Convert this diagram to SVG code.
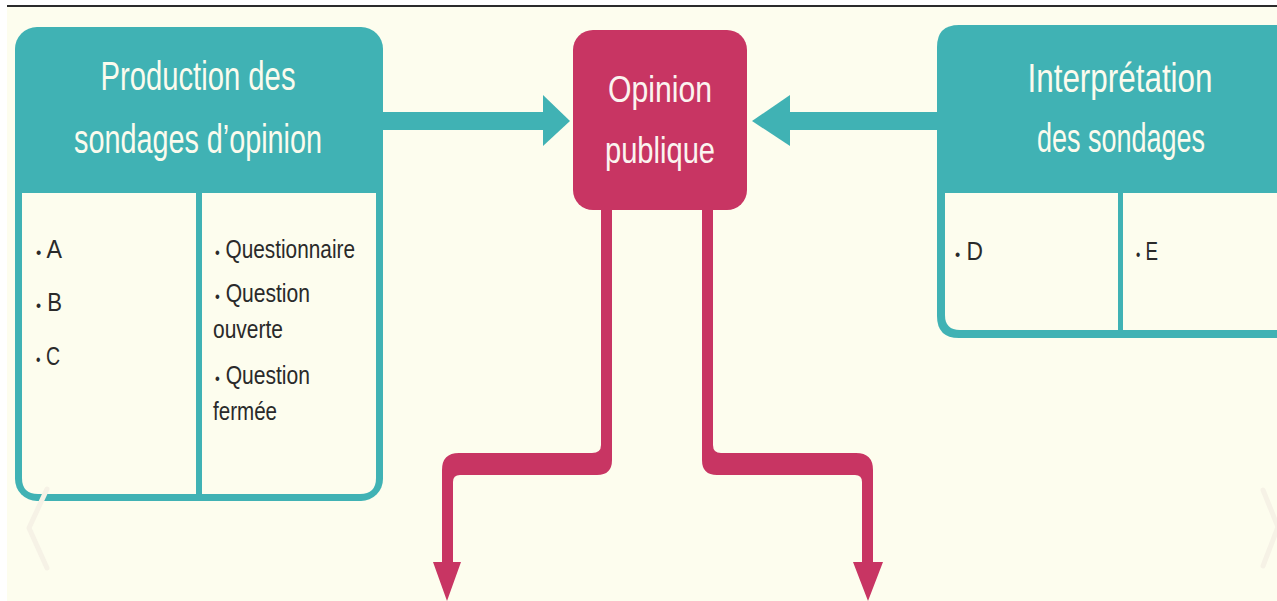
<svg xmlns="http://www.w3.org/2000/svg" width="1277" height="601" viewBox="0 0 1277 601">
<style>
.hd{font-family:"Liberation Sans",Arial,sans-serif;font-size:40px;fill:#fbfbee;text-anchor:middle}
.op{font-family:"Liberation Sans",Arial,sans-serif;font-size:37px;fill:#fbf4f0;text-anchor:middle}
.bd{font-family:"Liberation Sans",Arial,sans-serif;font-size:26px;fill:#2a2a2a}
.bl{font-size:17px}
.teal{fill:#40b2b4}
.cream{fill:#fdfdee}
.mag{fill:#c83563}
.chev{fill:none;stroke:#f6f2e6;stroke-width:5;stroke-linecap:round;stroke-linejoin:round}
</style>
<rect x="0" y="0" width="1277" height="601" fill="#ffffff"/>
<rect x="7" y="7" width="1270" height="594" class="cream"/>
<line x1="7" y1="6" x2="1277" y2="6" stroke="#2b2b2b" stroke-width="2"/>

<g id="connectors">
  <rect x="383" y="112" width="162" height="18" class="teal"/>
  <polygon points="543,95 570,121 543,146" class="teal"/>
  <rect x="788" y="112" width="150" height="18" class="teal"/>
  <polygon points="790,95 752,121 790,146" class="teal"/>
  <path class="mag" d="M601,208 H612 V460 Q612,475 597,475 H460 Q453,475 453,482 V562 H461 L447,601 L433,562 H442 V470 Q442,453 459,453 H592 Q601,453 601,445 Z"/>
  <path class="mag" d="M702,208 H713 V445 Q713,453 721,453 H856 Q873,453 873,470 V562 H883 L868,601 L853,562 H862 V482 Q862,475 855,475 H717 Q702,475 702,460 Z"/>
</g>

<g id="node-production">
  <rect x="15" y="27" width="368" height="474" rx="22" class="teal"/>
  <path class="cream" d="M22,193 H376 V478 Q376,494 360,494 H38 Q22,494 22,478 Z"/>
  <rect x="196" y="193" width="6" height="301" class="teal"/>
  <text class="hd" x="198" y="90" textLength="195" lengthAdjust="spacingAndGlyphs">Production des</text>
  <text class="hd" x="198" y="153" textLength="248" lengthAdjust="spacingAndGlyphs">sondages d’opinion</text>
  <text class="bd" x="36" y="258" textLength="26" lengthAdjust="spacingAndGlyphs"><tspan class="bl">•</tspan> A</text>
  <text class="bd" x="36" y="311" textLength="26" lengthAdjust="spacingAndGlyphs"><tspan class="bl">•</tspan> B</text>
  <text class="bd" x="36" y="365" textLength="24" lengthAdjust="spacingAndGlyphs"><tspan class="bl">•</tspan> C</text>
  <text class="bd" x="215" y="258" textLength="140" lengthAdjust="spacingAndGlyphs"><tspan class="bl">•</tspan> Questionnaire</text>
  <text class="bd" x="215" y="302" textLength="95" lengthAdjust="spacingAndGlyphs"><tspan class="bl">•</tspan> Question</text>
  <text class="bd" x="213" y="338" textLength="70" lengthAdjust="spacingAndGlyphs">ouverte</text>
  <text class="bd" x="215" y="384" textLength="95" lengthAdjust="spacingAndGlyphs"><tspan class="bl">•</tspan> Question</text>
  <text class="bd" x="213" y="420" textLength="64" lengthAdjust="spacingAndGlyphs">fermée</text>
</g>

<g id="node-opinion">
  <rect x="573" y="30" width="174" height="180" rx="20" class="mag"/>
  <text class="op" x="660" y="102" textLength="104" lengthAdjust="spacingAndGlyphs">Opinion</text>
  <text class="op" x="660" y="163" textLength="110" lengthAdjust="spacingAndGlyphs">publique</text>
</g>

<g id="node-interpretation">
  <path class="teal" d="M1277,25 H959 Q937,25 937,47 V316 Q937,338 959,338 H1277 Z"/>
  <path class="cream" d="M945,193 H1277 V330 H960 Q945,330 945,315 Z"/>
  <rect x="1118" y="193" width="5" height="137" class="teal"/>
  <text class="hd" x="1120" y="92" textLength="185" lengthAdjust="spacingAndGlyphs">Interprétation</text>
  <text class="hd" x="1121" y="152" textLength="168" lengthAdjust="spacingAndGlyphs">des sondages</text>
  <text class="bd" x="955" y="260" textLength="28" lengthAdjust="spacingAndGlyphs"><tspan class="bl">•</tspan> D</text>
  <text class="bd" x="1136" y="260" textLength="22" lengthAdjust="spacingAndGlyphs"><tspan class="bl">•</tspan> E</text>
</g>

<polyline class="chev" points="47,489 29,528 47,568"/>
<polyline class="chev" points="1263,490 1278,527 1263,566"/>
</svg>
